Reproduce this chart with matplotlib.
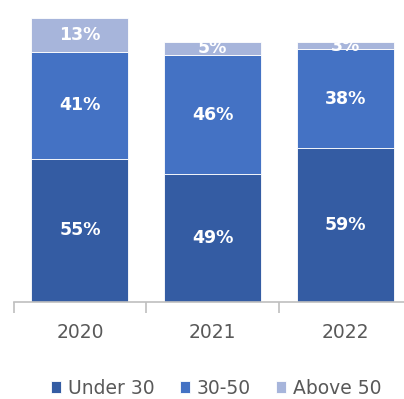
import matplotlib.pyplot as plt
import numpy as np

years = ["2020", "2021", "2022"]
under_30 = [55, 49, 59]
mid_30_50 = [41, 46, 38]
above_50 = [13, 5, 3]

series = [("Under 30", under_30, "#345CA3"),
          ("30-50", mid_30_50, "#4472C4"),
          ("Above 50", above_50, "#A7B5DB")]

fig = plt.figure(figsize=(4.04, 3.99), dpi=100)
ax = fig.add_axes([13.5 / 404, 97 / 399, 398.5 / 404, 302 / 399])

x = np.arange(len(years))
bottom = np.zeros(len(years))
for name, vals, color in series:
    bars = ax.bar(x, vals, 0.73, bottom=bottom, color=color, label=name,
                  edgecolor="white", linewidth=0.6)
    for rect, v in zip(bars, vals):
        t = ax.text(rect.get_x() + rect.get_width() / 2,
                    rect.get_y() + rect.get_height() / 2,
                    f"{v}%", ha="center", va="center", color="white",
                    fontsize=12.5, fontweight="bold", family="DejaVu Sans")
        t.set_clip_path(rect)
    bottom += np.array(vals)

ax.set_xlim(-0.5, 2.5)
ax.set_ylim(0, 116)
for s in ["top", "right", "left"]:
    ax.spines[s].set_visible(False)
ax.spines["bottom"].set_color("#BFBFBF")
ax.spines["bottom"].set_linewidth(1.2)
ax.set_yticks([])
ax.set_xticks([-0.5, 0.5, 1.5, 2.5])
ax.set_xticklabels([])
ax.tick_params(axis="x", length=8, color="#BFBFBF", width=1.2)
for i, y in enumerate(years):
    ax.text(i, -8, y, ha="center", va="top", fontsize=13.5, color="#595959")

ax.legend(loc="center", bbox_to_anchor=(0.508, -0.285),
          ncol=3, frameon=False, fontsize=13.5, handlelength=0.55, handleheight=0.55,
          handletextpad=0.35, columnspacing=1.35, labelcolor="#595959")

fig.savefig("out.png", dpi=100)
